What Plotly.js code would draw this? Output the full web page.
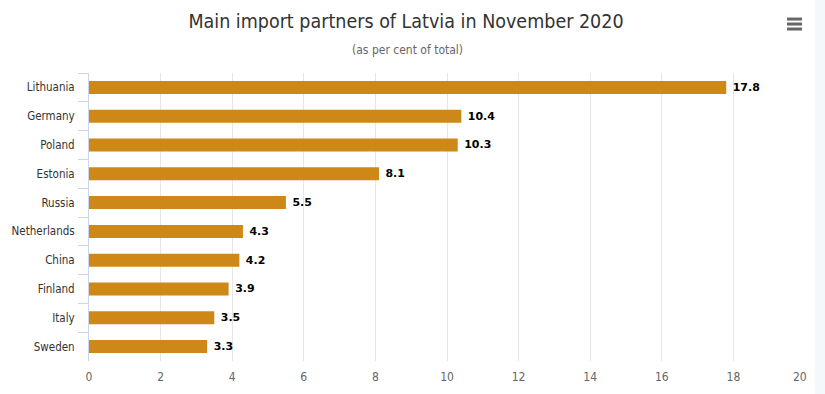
<!DOCTYPE html>
<html>
<head>
<meta charset="utf-8">
<script src="https://cdn.plot.ly/plotly-3.0.1.min.js"></script>
<style>html,body{margin:0;padding:0;background:#fff;}#chart{width:825px;height:394px;}</style>
</head>
<body>
<div id="chart"></div>
<script>
const countries = ["Lithuania","Germany","Poland","Estonia","Russia","Netherlands","China","Finland","Italy","Sweden"];
const shares = [17.8, 10.4, 10.3, 8.1, 5.5, 4.3, 4.2, 3.9, 3.5, 3.3];
const xTicks = [0,2,4,6,8,10,12,14,16,18,20];

const FONT = "'Liberation Sans Narrow', 'DejaVu Sans Condensed', 'Open Sans', sans-serif";

const L = 89, R = 805, T = 72.6, B = 361.4, W = 825, H = 394;
const px = x => (x - L) / (R - L);
const py = y => (B - y) / (B - T);

const trace = {
  type: 'bar',
  orientation: 'h',
  x: shares,
  y: countries,
  marker: {color: '#cd8818'},
  text: shares.map(v => v.toFixed(1)),
  textposition: 'outside',
  texttemplate: '\u00a0<b>%{text}</b>',
  textfont: {family: "'DejaVu Sans', sans-serif", size: 11, color: '#000'},
  cliponaxis: false,
  hoverinfo: 'x+y'
};

const shapes = [
  {type:'rect', xref:'paper', yref:'paper', x0:px(815), x1:px(830), y0:py(-5), y1:py(400), fillcolor:'#f5f8fb', line:{width:0}, layer:'below'}
];
[18.5, 23.5, 28.5].forEach(yy => {
  shapes.push({type:'line', xref:'paper', yref:'paper', x0:px(787), x1:px(802), y0:py(yy), y1:py(yy), line:{color:'#666', width:3}});
});

const layout = {
  width: W, height: H,
  margin: {l: L, r: W - R, t: T, b: H - B, pad: 0},
  paper_bgcolor: '#fff',
  plot_bgcolor: '#fff',
  bargap: 0.55,
  showlegend: false,
  title: {
    text: 'Main import partners of Latvia in November 2020',
    font: {family: FONT, size: 19.5, color: '#333'},
    x: 406/825, xanchor: 'center', xref: 'container',
    y: 1 - 21/394, yanchor: 'middle', yref: 'container'
  },
  annotations: [{
    text: '(as per cent of total)',
    xref: 'paper', yref: 'paper', x: px(407), y: py(49.5),
    xanchor: 'center', yanchor: 'middle', showarrow: false,
    font: {family: FONT, size: 12, color: '#666'}
  }],
  xaxis: {
    range: [0, 20],
    tickvals: xTicks,
    ticktext: xTicks.map((v, i) => i === xTicks.length - 1 ? String(v) + '\u00a0\u00a0\u00a0' : String(v)),
    showgrid: true, gridcolor: '#e6e6e6', gridwidth: 1,
    zeroline: false, showline: false,
    ticks: 'outside', ticklen: 5, tickcolor: 'rgba(0,0,0,0)',
    tickfont: {family: FONT, size: 12, color: '#666'},
    fixedrange: true
  },
  yaxis: {
    type: 'category',
    autorange: 'reversed',
    showgrid: false, zeroline: false,
    showline: true, linecolor: '#ccd6eb', linewidth: 1,
    ticks: 'outside', tickson: 'boundaries', ticklen: 10, tickcolor: '#ccd6eb', tickwidth: 1,
    tickfont: {family: FONT, size: 11.5, color: '#333'},
    ticklabelstandoff: 11,
    fixedrange: true
  },
  shapes: shapes
};

Plotly.newPlot('chart', [trace], layout, {displayModeBar: false, staticPlot: false});
</script>
</body>
</html>
